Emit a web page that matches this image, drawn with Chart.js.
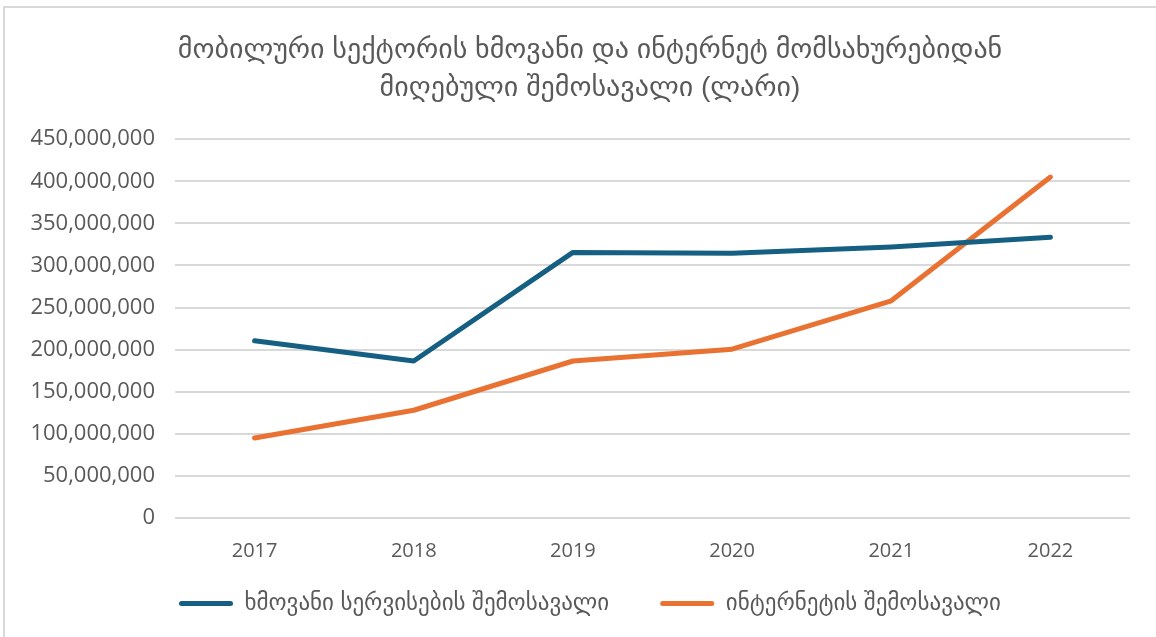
<!DOCTYPE html>
<html>
<head>
<meta charset="utf-8">
<script src="https://cdn.jsdelivr.net/npm/chart.js@4/dist/chart.umd.min.js"></script>
<style>
    body { margin: 0; background: #fff; }
    #wrap { position: relative; width: 1156px; height: 637px; }
    #frame {
        position: absolute; left: 3px; top: 6px; right: 0; bottom: 0;
        border-top: 2px solid #d9d9d9; border-left: 2px solid #d9d9d9;
        pointer-events: none;
    }
</style>
</head>
<body>
<div id="wrap">
    <canvas id="chart" width="1156" height="637"></canvas>
    <div id="frame"></div>
</div>
<script>
const years = ['2017', '2018', '2019', '2020', '2021', '2022'];
const voiceIncome = [210500000, 186500000, 315500000, 314500000, 322000000, 333500000];
const internetIncome = [95000000, 128000000, 186500000, 200500000, 258000000, 405000000];
const seriesNames = ['ხმოვანი სერვისების შემოსავალი', 'ინტერნეტის შემოსავალი'];
const titleLines = ['მობილური სექტორის ხმოვანი და ინტერნეტ მომსახურებიდან', 'მიღებული შემოსავალი (ლარი)'];

const textColor = '#595959';
const geoFont = '"Liberation Sans", "DejaVu Sans", sans-serif';
const numFont = '"Open Sans", "Liberation Sans", sans-serif';

// em space after the first legend text widens the gap between the two items
const legendTail = ['\u2003', ''];

const ctx = document.getElementById('chart').getContext('2d');

new Chart(ctx, {
    type: 'line',
    data: {
        labels: years,
        datasets: [{
            label: seriesNames[0],
            data: voiceIncome,
            borderColor: '#156082',
            backgroundColor: '#156082',
            borderWidth: 5,
            pointRadius: 0,
            borderCapStyle: 'round',
            borderJoinStyle: 'round'
        }, {
            label: seriesNames[1],
            data: internetIncome,
            borderColor: '#E97132',
            backgroundColor: '#E97132',
            borderWidth: 5,
            pointRadius: 0,
            borderCapStyle: 'round',
            borderJoinStyle: 'round'
        }]
    },
    options: {
        responsive: false,
        animation: false,
        layout: { padding: { left: 24, right: 0, bottom: 12 } },
        plugins: {
            title: {
                display: true,
                text: titleLines,
                color: textColor,
                font: { family: geoFont, size: 28, weight: 'normal', lineHeight: 1.36 },
                padding: { top: 31, bottom: 32 }
            },
            legend: {
                position: 'bottom',
                labels: {
                    color: textColor,
                    font: { family: geoFont, size: 23 },
                    boxWidth: 54,
                    boxHeight: 5,
                    padding: 28,
                    generateLabels: function (chart) {
                        return chart.data.datasets.map((ds, i) => ({
                            text: ds.label + legendTail[i],
                            fillStyle: ds.borderColor,
                            strokeStyle: ds.borderColor,
                            lineWidth: 0,
                            fontColor: textColor,
                            borderRadius: 2.5,
                            datasetIndex: i
                        }));
                    }
                }
            },
            tooltip: { enabled: false }
        },
        scales: {
            x: {
                offset: true,
                grid: { display: false },
                border: { display: false },
                ticks: {
                    color: textColor,
                    font: { family: numFont, size: 20 },
                    padding: 13
                },
                afterFit: function (scale) { scale.height = 46; }
            },
            y: {
                min: 0,
                max: 450000000,
                ticks: {
                    stepSize: 50000000,
                    color: textColor,
                    font: { family: numFont, size: 22 },
                    padding: 20,
                    callback: v => v.toLocaleString('en-US')
                },
                grid: { color: '#d9d9d9', lineWidth: 2, drawTicks: false },
                border: { display: false },
                afterFit: function (scale) { scale.width = 151; }
            },
            // empty right axis: keeps the plot's right margin
            yRight: {
                type: 'linear',
                position: 'right',
                grid: { display: false },
                border: { display: false },
                ticks: { display: false },
                afterFit: function (scale) { scale.width = 26; }
            }
        }
    }
});
</script>
</body>
</html>
